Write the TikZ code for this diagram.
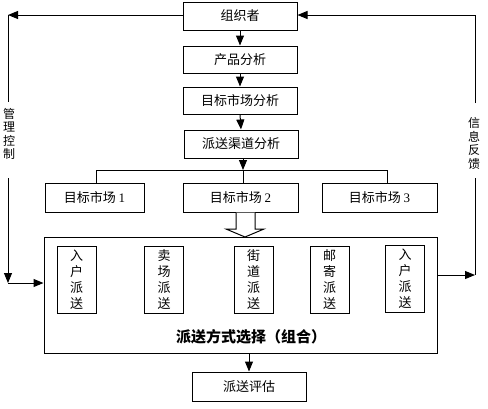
\documentclass[tikz,border=0pt]{standalone}
\usepackage{fontspec}
\setmainfont{Liberation Serif}
\newfontfamily\cjk{Noto Sans CJK SC}
\usetikzlibrary{arrows.meta}
\begin{document}
\begin{tikzpicture}[x=1pt,y=-1pt,line width=1pt,
  box/.style={draw,rectangle,inner sep=0pt,font=\cjk\fontsize{13}{15}\selectfont},
  vbox/.style={draw,rectangle,inner sep=0pt,minimum width=39pt,minimum height=67pt,align=center,font=\cjk\fontsize{13}{16}\selectfont},
  side/.style={inner sep=0pt,align=center,font=\cjk\fontsize{12}{13.5}\selectfont},
  arr/.style={-{Triangle[length=10pt,width=8pt]}}]
\useasboundingbox[fill=white] (0,0) rectangle (488,408);
\node[box,minimum width=114pt,minimum height=28pt] (org) at (240,16) {组织者};
\node[box,minimum width=114pt,minimum height=27pt] (prod) at (240,59.5) {产品分析};
\node[box,minimum width=114pt,minimum height=27pt] (tm) at (240,100.5) {目标市场分析};
\node[box,minimum width=114pt,minimum height=28pt] (ch) at (241,144) {派送渠道分析};
\node[box,minimum width=99pt,minimum height=29pt] (m1) at (94.5,197.5) {目标市场 {\rmfamily 1}};
\node[box,minimum width=115pt,minimum height=29pt] (m2) at (240.5,197.5) {目标市场 {\rmfamily 2}};
\node[box,minimum width=115pt,minimum height=29pt] (m3) at (379.5,197.5) {目标市场 {\rmfamily 3}};
\node[draw,rectangle,inner sep=0pt,minimum width=393pt,minimum height=116pt] (big) at (240.5,295) {};
\node[vbox] (s1) at (76.5,279.5) {入\\户\\派\\送};
\node[vbox] (s2) at (164,279.5) {卖\\场\\派\\送};
\node[vbox] (s3) at (253.5,279.5) {街\\道\\派\\送};
\node[vbox] (s4) at (329.5,279.5) {邮\\寄\\派\\送};
\node[vbox] (s5) at (405,279) {入\\户\\派\\送};
\node[inner sep=0pt,font=\cjk\bfseries\fontsize{15}{17}\selectfont] (lab) at (251,337) {派送方式选择（组合）};
\node[box,minimum width=114pt,minimum height=29pt] (ev) at (249,386.5) {派送评估};
% chain
\draw[arr] (org.south) -- (prod.north);
\draw[arr] (prod.south) -- (tm.north);
\draw[arr] (tm.south) -- (ch.north);
\coordinate (bl) at (96,170);
\coordinate (br) at (387,170);
\coordinate (bm) at (243,170);
\draw[arr] (ch.south -| bm) -- (bm);
\draw (bm) -- (bm |- m2.north);
\draw (bl) -- (br);
\draw (bl) -- (bl |- m1.north);
\draw (br) -- (br |- m3.north);
% hollow arrow
\draw[fill=white] (236,212.5) -- (236,229) -- (226,229) -- (245,237) -- (264,229) -- (255,229) -- (255,212.5);
\draw[arr] (big.south -| ev) -- (ev.north);
% left loop
\coordinate (lt) at (8,15);
\coordinate (lb) at (8,283);
\node[side] (ml) at (9,134) {管\\理\\控\\制};
\draw[arr] (org.west |- lt) -- (lt);
\draw (lt) -- (8,102);
\draw[arr] (8,178) -- (lb);
\draw[arr] (lb) -- (lb -| big.west);
% right loop
\coordinate (rt) at (475,15);
\coordinate (rb) at (475,275);
\node[side] (mr) at (474,143.5) {信\\息\\反\\馈};
\draw[arr] (rb -| big.east) -- (rb);
\draw (rb) -- (475,178);
\draw (475,103) -- (rt);
\draw[arr] (rt) -- (rt -| org.east);
\end{tikzpicture}
\end{document}
